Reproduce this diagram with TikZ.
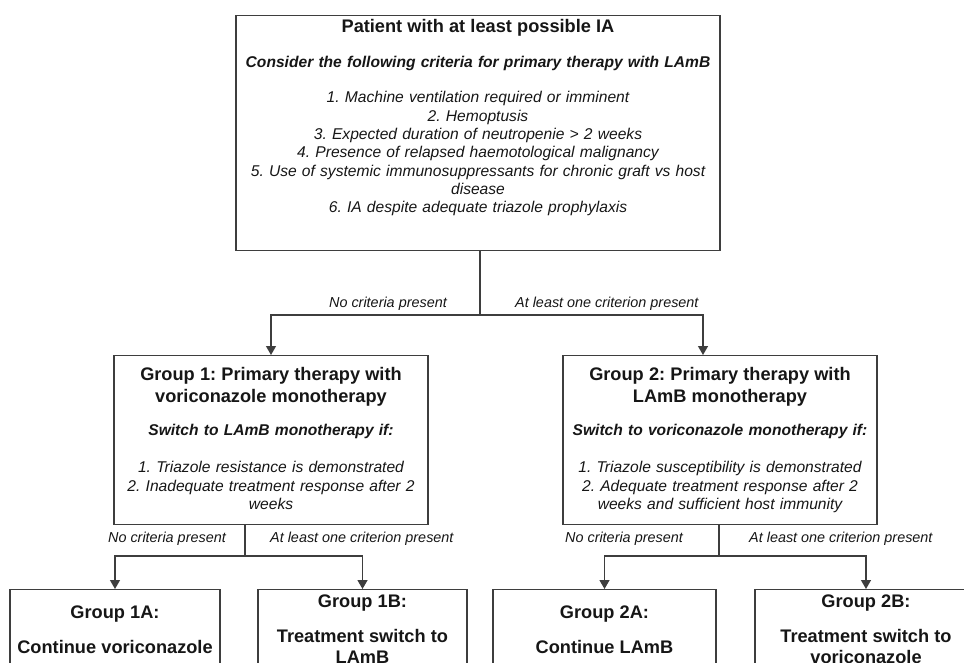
\documentclass[tikz,border=0pt]{standalone}
\usepackage{fontspec}
\setmainfont{Liberation Sans}
\usepackage{tikz}
\usetikzlibrary{arrows.meta,calc}
\definecolor{lineC}{RGB}{62,62,62}
\definecolor{txtC}{RGB}{22,22,22}
\setlength{\parindent}{0pt}
\frenchspacing
\newcommand{\hdr}[1]{{\fontsize{18.2}{18.3}\selectfont\bfseries #1}}
\newcommand{\crit}[1]{\textbf{\textit{#1}}}
\newcommand{\dpt}[1]{\rule[-#1]{0pt}{0pt}}

\begin{document}
\begin{tikzpicture}[x=1pt,y=-1pt,
  box/.style={draw=lineC,line width=1.3pt,align=center,text=txtC,anchor=north,inner xsep=4pt,
    font=\fontsize{15.6}{18.3}\selectfont},
  lbl/.style={inner sep=0pt,text=txtC,font=\fontsize{14.4}{17}\selectfont\itshape},
  ln/.style={draw=lineC,line width=1.3pt},
  arr/.style={ln,-{Triangle[length=9pt,width=10pt]}}]
\useasboundingbox (0,0) rectangle (964,662);
\clip (0,0) rectangle (964,662);

\node[box,text width=476pt,inner ysep=4pt] (pat) at (478,15)
  {\hdr{Patient with at least possible IA}\\[16.7pt]
   \crit{Consider the following criteria for primary therapy with LAmB}\\[16.7pt]
   {\itshape 1. Machine ventilation required or imminent\\
   2. Hemoptusis\\
   3. Expected duration of neutropenie > 2 weeks\\
   4. Presence of relapsed haemotological malignancy\\
   5. Use of systemic immunosuppressants for chronic graft vs host\\
   disease\\
   6. IA despite adequate triazole prophylaxis\dpt{34pt}}};

\node[box,text width=306pt,inner ysep=12pt] (grp1) at (271,355)
  {\hdr{Group 1: Primary therapy with}\\[3.2pt]
   \hdr{voriconazole monotherapy}\\[15.2pt]
   \crit{Switch to LAmB monotherapy if:}\\[18.7pt]
   {\itshape 1. Triazole resistance is demonstrated\\
   2. Inadequate treatment response after 2\\
   weeks\dpt{3.3pt}}};
\node[box,text width=306pt,inner ysep=12pt] (grp2) at (720,355)
  {\hdr{Group 2: Primary therapy with}\\[3.2pt]
   \hdr{LAmB monotherapy}\\[15.2pt]
   \crit{Switch to voriconazole monotherapy if:}\\[18.7pt]
   {\itshape 1. Triazole susceptibility is demonstrated\\
   2. Adequate treatment response after 2\\
   weeks and sufficient host immunity\dpt{3.3pt}}};

% outcome boxes, cut by the lower edge
\node[box,text width=204pt,inner xsep=3pt,inner ysep=16pt] (g1a) at (115,589)
  {\hdr{Group 1A:}\\[16.7pt]\hdr{Continue voriconazole}};
\node[box,text width=203pt,inner xsep=3pt,inner ysep=5pt] (g1b) at (362.5,589)
  {\hdr{Group 1B:}\\[16.7pt]\hdr{Treatment switch to}\\[3.2pt]\hdr{LAmB}};
\node[box,text width=217pt,inner xsep=3pt,inner ysep=16pt] (g2a) at (604.5,589)
  {\hdr{Group 2A:}\\[16.7pt]\hdr{Continue LAmB}};
\node[box,text width=216pt,inner xsep=3pt,inner ysep=5pt] (g2b) at (866,589)
  {\hdr{Group 2B:}\\[16.7pt]\hdr{Treatment switch to}\\[3.2pt]\hdr{voriconazole}};

\coordinate (j0) at (480,315);
\coordinate (j1) at (245,556);
\coordinate (j2) at (719,556);

\node[lbl,anchor=base east] (no0)  at (447,307) {No criteria present};
\node[lbl,anchor=base west] (yes0) at (515,307) {At least one criterion present};
\node[lbl,anchor=base east] (no1)  at (226,542) {No criteria present};
\node[lbl,anchor=base west] (yes1) at (270,542) {At least one criterion present};
\node[lbl,anchor=base east] (no2)  at (683,542) {No criteria present};
\node[lbl,anchor=base west] (yes2) at (749,542) {At least one criterion present};

\draw[ln] (pat.south -| j0) -- (j0);
\draw[arr] (j0) -| (grp1.north);
\draw[arr] (j0) -| ([xshift=-17pt]grp2.north);
\draw[ln] (grp1.south -| j1) -- (j1);
\draw[arr] (j1) -| (g1a.north);
\draw[arr] (j1) -| (g1b.north);
\draw[ln] (grp2.south -| j2) -- (j2);
\draw[arr] (j2) -| (g2a.north);
\draw[arr] (j2) -| (g2b.north);
\end{tikzpicture}
\end{document}
